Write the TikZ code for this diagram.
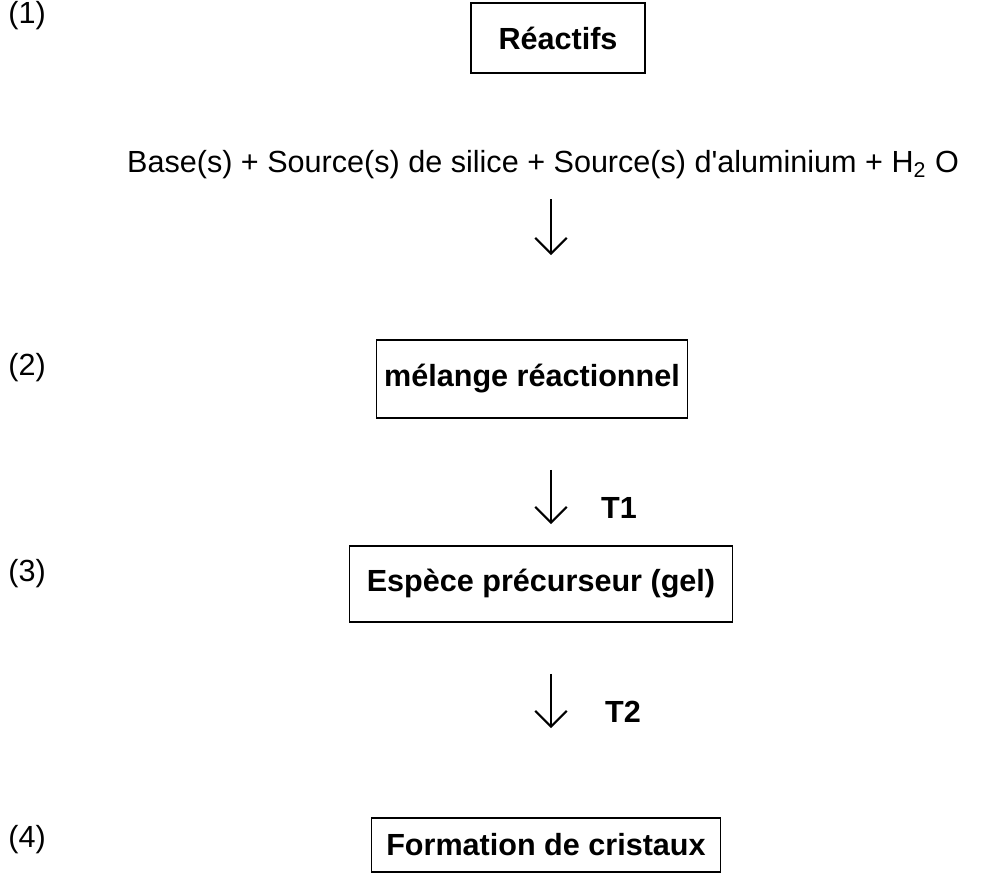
\documentclass[tikz,border=0pt]{standalone}
\usepackage{fontspec}
\setmainfont{Liberation Sans}
\usetikzlibrary{arrows.meta}

\begin{document}
\begin{tikzpicture}[x=0.02cm,y=-0.02cm]
	\tikzset{texte/.style={font=\fontsize{17.4}{20}\selectfont,inner sep=0pt},
		etape/.style={texte,draw,line width=1pt,font=\fontsize{17.4}{20}\selectfont\bfseries},
		fleche/.style={line width=1.2pt,-{Straight Barb[length=9pt,width=18pt,line width=1.2pt]}},
		numero/.style={texte,anchor=west}}
	\useasboundingbox (0,0) rectangle (981,875);
	% etapes
	\node[etape,minimum width=3.48cm,minimum height=1.4cm] (reactifs) at (558,38) {Réactifs};
	\node[texte,anchor=base] (base) at (543,173) {Base(s) + Source(s) de silice + Source(s) d\textquotesingle aluminium + H\textsubscript{2} O};
	\node[etape,minimum width=6.22cm,minimum height=1.56cm] (melange) at (532,379) {mélange réactionnel};
	\node[etape,minimum width=7.66cm,minimum height=1.52cm] (espece) at (541,584) {Espèce précurseur (gel)};
	\node[etape,minimum width=6.98cm,minimum height=1.08cm] (formation) at (546,845) {Formation de cristaux};
	\node[numero] (n1) at (8,16) {(1)};
	\node[numero] (n2) at (8,368) {(2)};
	\node[numero] (n3) at (8,574) {(3)};
	\node[numero] (n4) at (8,840) {(4)};
	\node[texte,font=\fontsize{17.4}{20}\selectfont\bfseries] (t1) at (619,508) {T1};
	\node[texte,font=\fontsize{17.4}{20}\selectfont\bfseries] (t2) at (623,712) {T2};
	% fleches
	\coordinate (axe) at (551,0);
	\draw[fleche,shorten <=0.39cm,shorten >=1.68cm] (base.south -| axe) -- (melange.north -| axe);
	\draw[fleche,shorten <=1.02cm,shorten >=0.42cm] (melange.south -| axe) -- (espece.north -| axe);
	\draw[fleche,shorten <=1.02cm,shorten >=1.78cm] (espece.south -| axe) -- (formation.north -| axe);
\end{tikzpicture}
\end{document}
